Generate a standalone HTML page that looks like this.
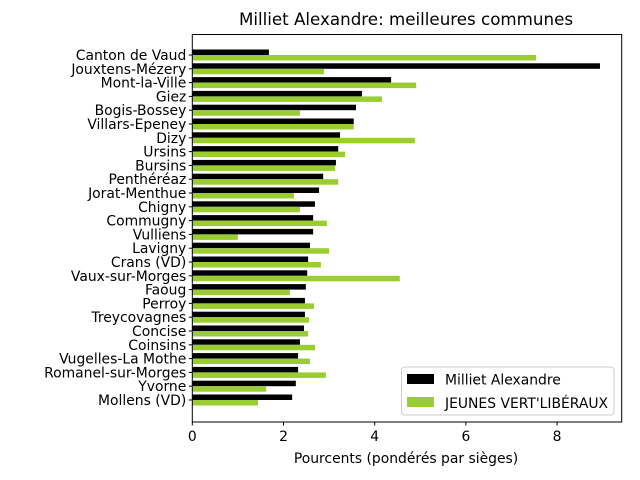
<!DOCTYPE html>
<html><head><meta charset="utf-8"><style>
body{margin:0;background:#fff}
svg{display:block;font-family:"DejaVu Sans","Liberation Sans",sans-serif}
</style></head><body>
<svg id="chart" width="640" height="480" viewBox="0 0 640 480">
<text x="406" y="25" font-size="16.7" text-anchor="middle">Milliet Alexandre: meilleures communes</text>
<g id="bars"></g>
<g id="yticks"></g>
<g id="xticks"></g>
<rect x="192.3" y="34.5" width="429.4" height="387.5" fill="none" stroke="#000" stroke-width="1"/>
<text x="406" y="463" font-size="13.9" text-anchor="middle">Pourcents (pondérés par sièges)</text>
<g>
<rect x="401.5" y="367" width="212.5" height="48" rx="3" fill="#fff" fill-opacity="0.8" stroke="#ccc"/>
<rect x="407" y="374" width="27" height="10" fill="#000"/>
<text x="445" y="384.5" font-size="13.9">Milliet Alexandre</text>
<rect x="407" y="397" width="27" height="10" fill="#9acd32"/>
<text x="445" y="408" font-size="13.9">JEUNES VERT'LIBÉRAUX</text>
</g>
</svg>
<script>
const categories=["Canton de Vaud","Jouxtens-Mézery","Mont-la-Ville","Giez","Bogis-Bossey","Villars-Epeney","Dizy","Ursins","Bursins","Penthéréaz","Jorat-Menthue","Chigny","Commugny","Vulliens","Lavigny","Crans (VD)","Vaux-sur-Morges","Faoug","Perroy","Treycovagnes","Concise","Coinsins","Vugelles-La Mothe","Romanel-sur-Morges","Yvorne","Mollens (VD)"];
const milliet=[1.68,8.94,4.36,3.72,3.59,3.54,3.24,3.20,3.15,2.87,2.78,2.69,2.65,2.65,2.58,2.54,2.52,2.49,2.47,2.47,2.45,2.36,2.32,2.32,2.27,2.19];
const jvl=[7.54,2.89,4.91,4.16,2.36,3.54,4.88,3.35,3.13,3.20,2.23,2.36,2.95,1.00,3.00,2.82,4.55,2.14,2.67,2.56,2.54,2.69,2.58,2.93,1.62,1.44];
const xTicks=[0,2,4,6,8];
const NS="http://www.w3.org/2000/svg";
const X0=192.3,XS=45.6,Y0=55,YS=13.8,BH=5.5;
function xs(v){return X0+v*XS;}
function ys(i){return Y0+i*YS;}
const bars=document.getElementById('bars'),yt=document.getElementById('yticks'),xt=document.getElementById('xticks');
function mk(t,a,p){const e=document.createElementNS(NS,t);for(const k in a)e.setAttribute(k,a[k]);p.appendChild(e);return e;}
categories.forEach((c,i)=>{
  const b=mk('rect',{x:xs(0),y:ys(i)-BH,width:xs(milliet[i])-xs(0),height:BH,fill:'#000'},bars);
  
  
  const g=mk('rect',{x:xs(0),y:ys(i),width:xs(jvl[i])-xs(0),height:BH,fill:'#9acd32'},bars);
  
  
  mk('line',{x1:X0-3.5,x2:X0,y1:ys(i),y2:ys(i),stroke:'#000'},yt);
  const t=mk('text',{x:X0-6,y:ys(i)+5,'font-size':'13.9','text-anchor':'end'},yt);
  t.textContent=c;
  
  
});
xTicks.forEach(v=>{
  mk('line',{x1:xs(v),x2:xs(v),y1:422,y2:425.5,stroke:'#000'},xt);
  const t=mk('text',{x:xs(v),y:441,'font-size':'13.9','text-anchor':'middle'},xt);
  t.textContent=v;
  
  
});
</script>
</body></html>
